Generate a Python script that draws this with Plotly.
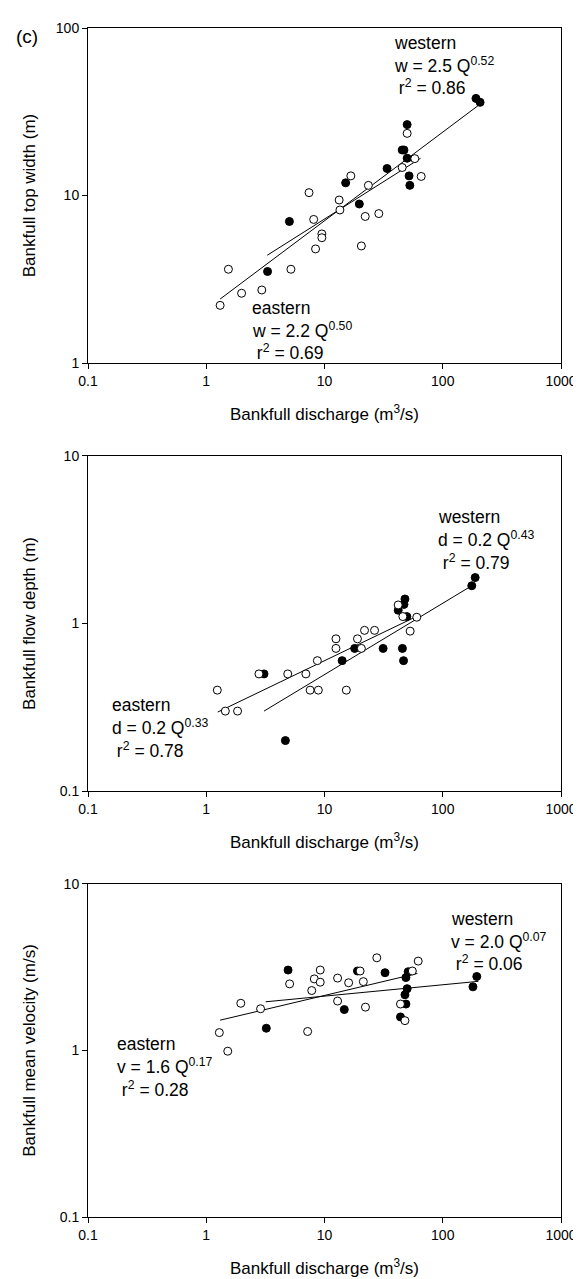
import plotly.graph_objects as go

# panel (c) top: bankfull top width
q_west_w = [191, 207, 50, 45.4, 47, 50, 33.8, 51.9, 52.7, 15.1, 19.7, 5.05, 3.3]
w_west = [38, 36, 26.5, 18.7, 18.7, 16.7, 14.5, 13.1, 11.5, 11.9, 8.9, 7.0, 3.52]
q_east_w = [50, 58, 45.4, 65.7, 16.7, 23.5, 7.4, 13.3, 13.5, 28.8, 22.1, 8.1, 9.5, 9.5,
            8.4, 20.5, 1.54, 5.2, 2.95, 1.99, 1.31]
w_east = [23.5, 16.6, 14.7, 13.0, 13.1, 11.5, 10.4, 9.4, 8.2, 7.8, 7.5, 7.2, 5.9, 5.6,
          4.8, 5.0, 3.63, 3.63, 2.73, 2.61, 2.21]
fit_q_west_w = [1.31, 200]
fit_w_west = [2.41, 34.5]
fit_q_east_w = [3.28, 65]
fit_w_east = [4.4, 16.7]

# middle: bankfull flow depth
q_west_d = [188, 176, 47.9, 47, 42, 49.7, 18, 31.3, 45.6, 46.6, 14.1, 3.08, 4.67]
d_west = [1.88, 1.68, 1.40, 1.30, 1.20, 1.10, 0.71, 0.71, 0.71, 0.60, 0.60, 0.50, 0.20]
q_east_d = [42, 46, 60.3, 53, 21.8, 26.5, 12.5, 19, 12.5, 20.5, 8.7, 2.79, 4.89, 6.96,
            1.24, 7.56, 8.87, 15.3, 1.45, 1.84]
d_east = [1.29, 1.10, 1.09, 0.90, 0.91, 0.91, 0.81, 0.81, 0.71, 0.71, 0.60, 0.50, 0.50,
          0.50, 0.40, 0.40, 0.40, 0.40, 0.30, 0.30]
fit_q_west_d = [3.08, 176]
fit_d_west = [0.30, 1.68]
fit_q_east_d = [1.25, 63]
fit_d_east = [0.296, 1.12]

# bottom: bankfull mean velocity
q_west_v = [194, 180, 4.92, 19.0, 32.5, 51, 48.8, 50, 47.9, 48.8, 14.7, 43.9, 3.22]
v_west = [2.78, 2.41, 3.04, 3.0, 2.93, 2.97, 2.74, 2.35, 2.16, 1.90, 1.76, 1.59, 1.36]
q_east_v = [27.7, 62, 9.2, 20.0, 55.3, 8.2, 9.2, 12.9, 16, 21.3, 5.07, 7.8, 43.9, 12.9,
            22.2, 47.9, 1.96, 2.88, 7.2, 1.29, 1.52]
v_east = [3.6, 3.44, 3.04, 3.0, 3.0, 2.69, 2.57, 2.72, 2.55, 2.59, 2.51, 2.29, 1.90, 1.98,
          1.82, 1.51, 1.92, 1.78, 1.30, 1.28, 0.99]
fit_q_east_v = [1.31, 61]
fit_v_east = [1.52, 2.9]
fit_q_west_v = [3.18, 200]
fit_v_west = [1.96, 2.6]

x_ticks = [0.1, 1, 10, 100, 1000]
x_ticktext = ["0.1", "1", "10", "100", "1000"]
y_titles = ["Bankfull top width (m)", "Bankfull flow depth (m)", "Bankfull mean velocity (m/s)"]
west_labels = [["western", "w = 2.5 Q<sup>0.52</sup>", " r<sup>2</sup> = 0.86"],
               ["western", "d = 0.2 Q<sup>0.43</sup>", " r<sup>2</sup> = 0.79"],
               ["western", "v = 2.0 Q<sup>0.07</sup>", " r<sup>2</sup> = 0.06"]]
east_labels = [["eastern", "w = 2.2 Q<sup>0.50</sup>", " r<sup>2</sup> = 0.69"],
               ["eastern", "d = 0.2 Q<sup>0.33</sup>", " r<sup>2</sup> = 0.78"],
               ["eastern", "v = 1.6 Q<sup>0.17</sup>", " r<sup>2</sup> = 0.28"]]

W, H = 581, 1279
L, R, T, B = 80, 559, 15, 1218
FONT = "Liberation Sans, Arial, sans-serif"

panels = [
    dict(qw=q_west_w, yw=w_west, qe=q_east_w, ye=w_east,
         fqw=fit_q_west_w, fyw=fit_w_west, fqe=fit_q_east_w, fye=fit_w_east,
         yr=[0, 2], yt=[1, 10, 100], ytt=["1", "10", "100"], top=15, bot=354,
         west_xy=(388, 30), east_xy=(244, 298), standoff=15),
    dict(qw=q_west_d, yw=d_west, qe=q_east_d, ye=d_east,
         fqw=fit_q_west_d, fyw=fit_d_west, fqe=fit_q_east_d, fye=fit_d_east,
         yr=[-1, 1], yt=[0.1, 1, 10], ytt=["0.1", "1", "10"], top=448, bot=787,
         west_xy=(432, 510), east_xy=(102, 700), standoff=19),
    dict(qw=q_west_v, yw=v_west, qe=q_east_v, ye=v_east,
         fqw=fit_q_west_v, fyw=fit_v_west, fqe=fit_q_east_v, fye=fit_v_east,
         yr=[-1, 1], yt=[0.1, 1, 10], ytt=["0.1", "1", "10"], top=881, bot=1218,
         west_xy=(446, 916), east_xy=(107, 1043), standoff=19),
]


def px_x(px):
    return (px - L) / (R - L)


def px_y(py):
    return (B - py) / (B - T)


fig = go.Figure()
annotations = []
layout = {}

for i, p in enumerate(panels):
    n = "" if i == 0 else str(i + 1)
    xa, ya = "x" + n, "y" + n
    line_style = dict(color="black", width=1)
    for fq, fy in [(p["fqw"], p["fyw"]), (p["fqe"], p["fye"])]:
        fig.add_trace(go.Scatter(x=fq, y=fy, mode="lines", line=line_style,
                                 xaxis=xa, yaxis=ya, showlegend=False))
    fig.add_trace(go.Scatter(x=p["qw"], y=p["yw"], mode="markers", xaxis=xa, yaxis=ya,
                             marker=dict(size=8, color="black", line=dict(color="black", width=1)),
                             showlegend=False))
    fig.add_trace(go.Scatter(x=p["qe"], y=p["ye"], mode="markers", xaxis=xa, yaxis=ya,
                             marker=dict(size=8, color="white", line=dict(color="black", width=1)),
                             showlegend=False))

    common = dict(type="log", showline=True, linecolor="black", linewidth=1, mirror=True,
                  ticks="outside", ticklen=5, tickcolor="black", showgrid=False, zeroline=False,
                  tickfont=dict(family=FONT, size=14, color="black"))
    layout["xaxis" + n] = dict(common, range=[-1, 3], tickvals=x_ticks, ticktext=x_ticktext,
                               anchor=ya, domain=[0, 1],
                               title=dict(text="Bankfull discharge (m<sup>3</sup>/s)",
                                          font=dict(family=FONT, size=17, color="black"),
                                          standoff=20))
    layout["yaxis" + n] = dict(common, range=p["yr"], tickvals=p["yt"], ticktext=p["ytt"],
                               anchor=xa, domain=[px_y(p["bot"]), px_y(p["top"])],
                               title=dict(text=y_titles[i],
                                          font=dict(family=FONT, size=17, color="black"),
                                          standoff=p["standoff"]))

    for labels, (x0, y0) in [(west_labels[i], p["west_xy"]), (east_labels[i], p["east_xy"])]:
        for k, txt in enumerate(labels):
            annotations.append(dict(text=txt, xref="paper", yref="paper",
                                    x=px_x(x0), y=px_y(y0 + 22.5 * k),
                                    xanchor="left", yanchor="middle", showarrow=False,
                                    font=dict(family=FONT, size=17.5, color="black")))

annotations.append(dict(text="(c)", xref="paper", yref="paper", x=px_x(5), y=px_y(24),
                        xanchor="left", yanchor="middle", showarrow=False,
                        font=dict(family=FONT, size=19, color="black")))

fig.update_layout(width=W, height=H, margin=dict(l=L, r=W - R, t=T, b=H - B),
                  paper_bgcolor="white", plot_bgcolor="white",
                  annotations=annotations, **layout)

fig.write_html("out.html")
